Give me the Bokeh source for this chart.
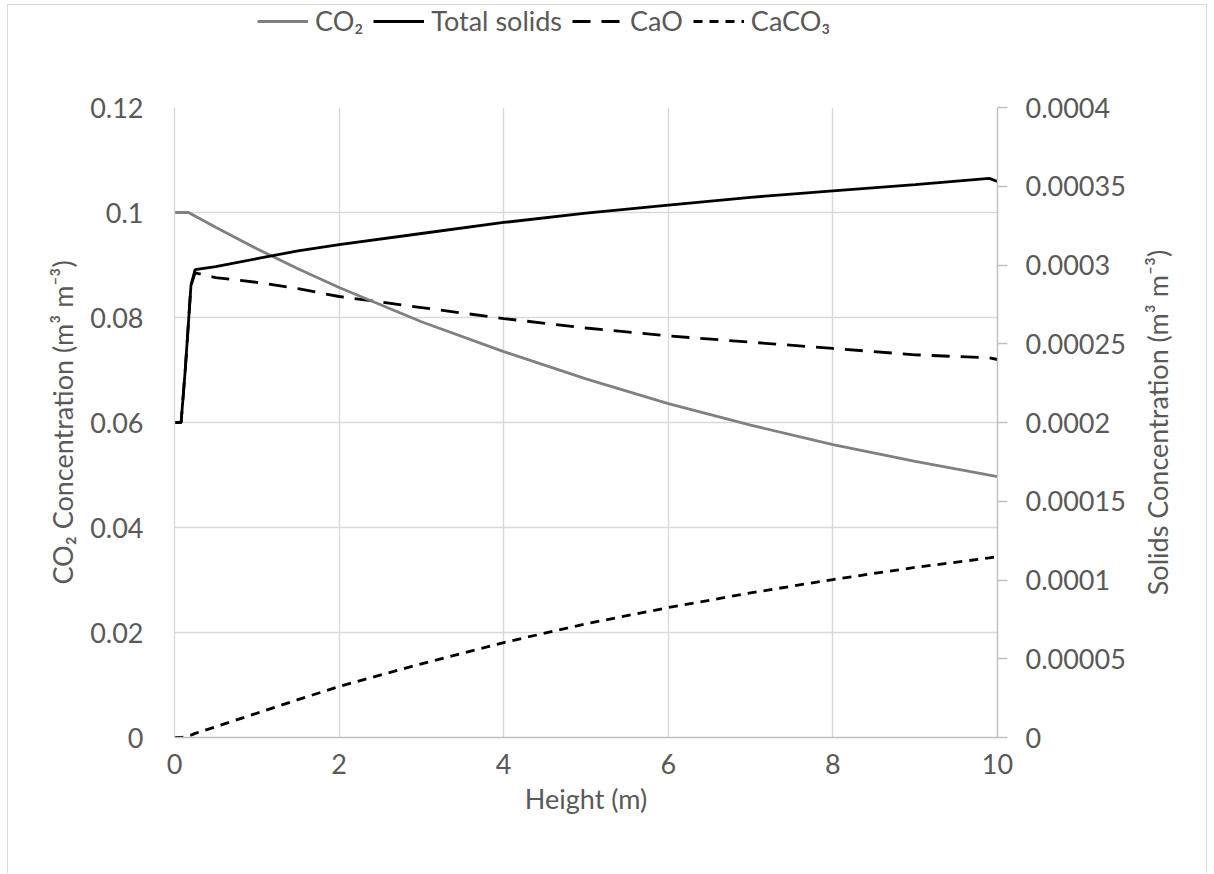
import math

from bokeh.plotting import figure
from bokeh.layouts import column, row
from bokeh.core.properties import value
from bokeh.models import (Range1d, LinearAxis, FixedTicker, CustomJSTickFormatter,
                          Legend, LegendItem)
from bokeh.embed import file_html
from bokeh.resources import INLINE

# Gas phase CO2 concentration along the reactor height
co2_height = [0, 0.17, 0.5, 1, 1.5, 2, 3, 4, 5, 6, 7, 8, 9, 10]
co2_conc = [0.1, 0.1, 0.0972, 0.0931, 0.0893, 0.0857, 0.0792, 0.0735,
            0.0683, 0.0636, 0.0595, 0.0558, 0.0526, 0.0497]

# Solids concentrations along the reactor height
solids_height = [0, 0.08, 0.13, 0.2, 0.25, 0.5, 1, 1.5, 2, 3, 4, 5, 6, 7, 8, 9, 9.9, 10]
total_solids = [0.0002, 0.0002, 0.000233, 0.000287, 0.000297, 0.000299, 0.000304,
                0.000309, 0.000313, 0.00032, 0.000327, 0.000333, 0.000338, 0.000343,
                0.000347, 0.000351, 0.000355, 0.000353]
cao = [0.0002, 0.0002, 0.000233, 0.000287, 0.000295, 0.000292, 0.000289, 0.000285,
       0.00028, 0.000273, 0.000266, 0.00026, 0.000255, 0.000251, 0.000247, 0.000243,
       0.000241, 0.00024]
caco3 = [0, 0, 0.0000005, 0.0000015, 0.0000026, 0.0000068, 0.0000154, 0.000024,
         0.0000324, 0.0000468, 0.0000603, 0.0000722, 0.0000825, 0.0000918,
         0.0001003, 0.000108, 0.000114, 0.000115]

x_ticks = [0, 2, 4, 6, 8, 10]
x_tick_labels = ["0", "2", "4", "6", "8", "10"]
left_ticks = [0, 0.02, 0.04, 0.06, 0.08, 0.1, 0.12]
left_tick_labels = ["0", "0.02", "0.04", "0.06", "0.08", "0.1", "0.12"]
right_ticks = [0, 0.00005, 0.0001, 0.00015, 0.0002, 0.00025, 0.0003, 0.00035, 0.0004]
right_tick_labels = ["0", "0.00005", "0.0001", "0.00015", "0.0002", "0.00025",
                     "0.0003", "0.00035", "0.0004"]

series_names = ["CO\u2082", "Total solids", "CaO", "CaCO\u2083"]
right_title = "Solids Concentration (m\u00b3 m\u207b\u00b3)"

FONT = "Lato"
FSIZE = "27px"
TXT = "#595959"
GRID = "#d9d9d9"
AXIS = "#bfbfbf"
LW = 2.8
STYLES = {
    "co2": dict(line_color="#808080", line_width=LW),
    "total": dict(line_color="black", line_width=LW),
    "cao": dict(line_color="black", line_width=LW, line_dash="18 11"),
    "caco3": dict(line_color="black", line_width=LW, line_dash="9 7"),
}


def label_formatter(vals, texts):
    return CustomJSTickFormatter(
        args=dict(vals=vals, texts=texts),
        code="""
        for (let i = 0; i < vals.length; i++) {
            if (Math.abs(vals[i] - tick) < 1e-12) { return texts[i]; }
        }
        return "";
        """)


def draw_series(fig, **kw):
    r_cao = fig.line(solids_height, cao, y_range_name="solids", **STYLES["cao"], **kw)
    r_caco3 = fig.line(solids_height, caco3, y_range_name="solids", **STYLES["caco3"], **kw)
    r_co2 = fig.line(co2_height, co2_conc, **STYLES["co2"], **kw)
    r_total = fig.line(solids_height, total_solids, y_range_name="solids",
                       **STYLES["total"], **kw)
    return [r_co2, r_total, r_cao, r_caco3]


def blank_fig(width, height, **kw):
    f = figure(width=width, height=height, output_backend="svg", toolbar_location=None,
               x_axis_location=None, y_axis_location=None,
               background_fill_color="white", border_fill_color="white", **kw)
    f.outline_line_color = None
    f.grid.visible = False
    return f


# ---- main chart ----
p = figure(width=1122, height=781,
           x_range=Range1d(0, 10), y_range=Range1d(0, 0.12),
           output_backend="svg", toolbar_location=None,
           min_border_left=166, min_border_right=133,
           min_border_top=15, min_border_bottom=136,
           background_fill_color="white", border_fill_color="white")
p.outline_line_color = None
p.extra_y_ranges = {"solids": Range1d(0, 0.0004)}

p.xgrid.ticker = FixedTicker(ticks=x_ticks)
p.ygrid.ticker = FixedTicker(ticks=left_ticks)
for g in (p.xgrid, p.ygrid):
    g.grid_line_color = GRID
    g.grid_line_width = 1.4

xa = p.xaxis[0]
xa.ticker = FixedTicker(ticks=x_ticks)
xa.formatter = label_formatter(x_ticks, x_tick_labels)
xa.axis_label = "Height (m)"

ya = p.yaxis[0]
ya.ticker = FixedTicker(ticks=left_ticks)
ya.formatter = label_formatter(left_ticks, left_tick_labels)
ya.axis_label = "CO\u2082 Concentration (m\u00b3 m\u207b\u00b3)"

ra = LinearAxis(y_range_name="solids",
                ticker=FixedTicker(ticks=right_ticks),
                formatter=label_formatter(right_ticks, right_tick_labels))
p.add_layout(ra, "right")

for ax in (xa, ya, ra):
    ax.major_label_text_font = FONT
    ax.major_label_text_font_size = FSIZE
    ax.major_label_text_color = TXT
    ax.axis_label_text_font = FONT
    ax.axis_label_text_font_size = FSIZE
    ax.axis_label_text_color = TXT
    ax.axis_label_text_font_style = "normal"
    ax.minor_tick_line_color = None
    ax.major_tick_in = 0
    ax.axis_line_width = 1.4

xa.axis_line_color = AXIS
xa.major_tick_line_color = None
xa.major_tick_out = 0
xa.major_label_standoff = 16
xa.axis_label_standoff = 5

ya.axis_line_color = GRID
ya.major_tick_line_color = None
ya.major_tick_out = 0
ya.major_label_standoff = 31
ya.axis_label_standoff = 8

ra.axis_line_color = AXIS
ra.major_tick_line_color = AXIS
ra.major_tick_line_width = 1.4
ra.major_tick_out = 10
ra.major_label_standoff = 18

draw_series(p)

# ---- right-hand axis title, reading bottom to top ----
rt = blank_fig(76, 781, x_range=Range1d(0, 76), y_range=Range1d(0, 1),
               min_border_left=0, min_border_right=0,
               min_border_top=15, min_border_bottom=136)
rt.text(x=[27], y=[0.5], text=[right_title], angle=math.pi / 2,
        text_align="center", text_baseline="middle",
        text_font=value(FONT), text_font_size=FSIZE, text_color=TXT)

# ---- legend strip above the chart ----
key = blank_fig(1198, 87, min_border=0)
key.extra_y_ranges = {"solids": Range1d(0, 0.0004)}
key_renderers = draw_series(key, visible=False)

legend = Legend(items=[LegendItem(label=name, renderers=[r])
                       for name, r in zip(series_names, key_renderers)],
                location=(249, 55), orientation="horizontal",
                glyph_width=51, glyph_height=30, label_height=30,
                label_standoff=7, padding=0, margin=0, spacing=10,
                border_line_color=None, background_fill_alpha=0,
                label_text_font=FONT, label_text_font_size=FSIZE,
                label_text_color=TXT)
key.add_layout(legend)

page = column(key, row(p, rt, spacing=0), spacing=0)
page.margin = (4, 0, 0, 7)
page.styles = {"border": "1px solid #d9d9d9", "border-bottom": "none"}

open("out.html", "w").write(file_html(page, INLINE))
